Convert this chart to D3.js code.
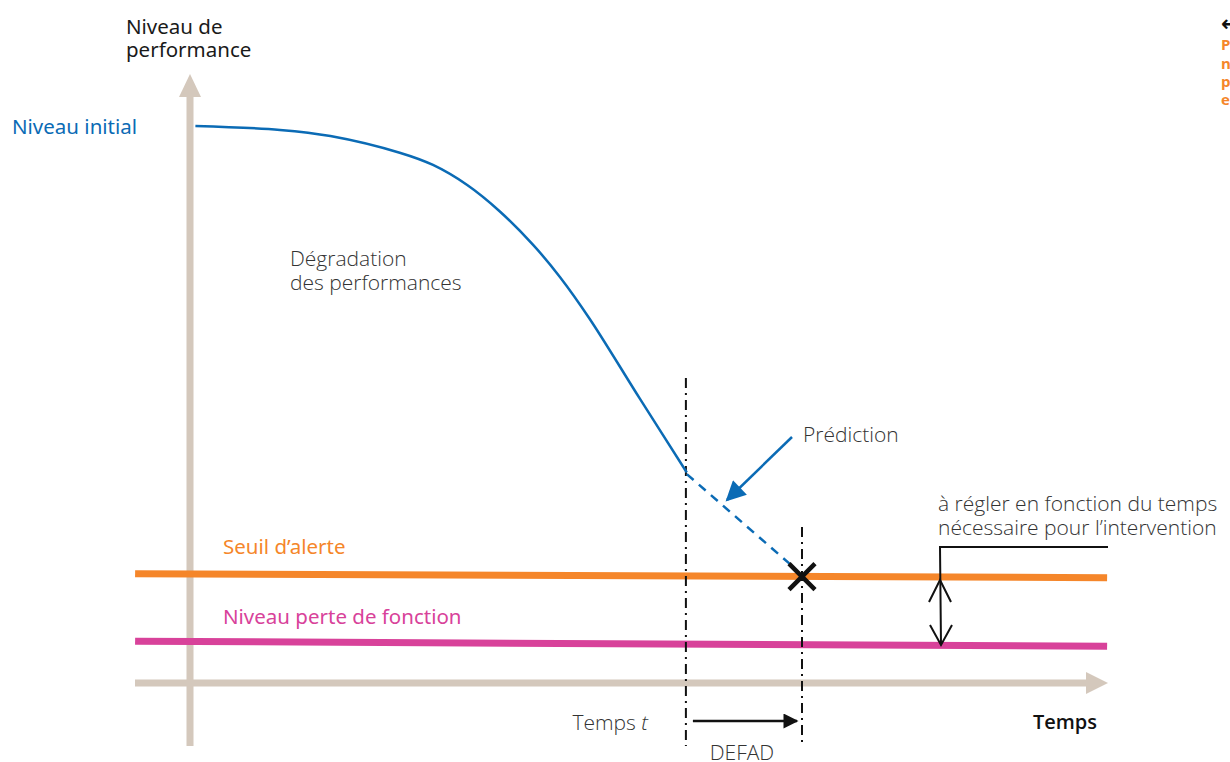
<!DOCTYPE html>
<html lang="fr">
<head>
<meta charset="UTF-8">
<title>Niveau de performance</title>
<script src="https://d3js.org/d3.v7.min.js"></script>
<style>
  body { margin: 0; background: #fff; }
  text { font-family: "Open Sans", "Noto Sans", sans-serif; }
</style>
</head>
<body>
<script>
// time 0..100, performance 0..100
const curveT = [0.6, 10, 15.6, 23.3, 27, 30.8, 34.4, 38.1, 41.1, 44.4, 50, 55.2];
const curveP = [100, 99.3, 98.2, 95.2, 93.0, 89.4, 84.7, 78.7, 72.9, 65.4, 51.0, 37.8];
const predT = [55.2, 67.2];
const predP = [37.5, 20.6];
const alertT = [-6.1, 101.9];
const alertP = [19.6, 18.9];
const lossP = [7.5, 6.6];
const tNow = 55.1;
const tDefad = 68;

const W = 1230, H = 762;
const svg = d3.select("body").append("svg")
    .attr("width", W)
    .attr("height", H);

const x = d3.scaleLinear().domain([0, 100]).range([190, 1090]);
const y = d3.scaleLinear().domain([0, 100]).range([683, 126]);

const axisColor = "#d4c8bc";
const blue = "#0b6bb5";
const orange = "#f5862a";
const pink = "#d8429a";
const grey = "#333";

// axes
svg.append("line")
    .attr("x1", x(0)).attr("x2", x(0))
    .attr("y1", 746).attr("y2", 95)
    .attr("stroke", axisColor).attr("stroke-width", 7);
svg.append("path")
    .attr("d", `M${x(0)},74 L${x(0) - 11},97 L${x(0) + 11},97 Z`)
    .attr("fill", axisColor);
svg.append("line")
    .attr("x1", 135).attr("x2", 1088)
    .attr("y1", y(0)).attr("y2", y(0))
    .attr("stroke", axisColor).attr("stroke-width", 7);
svg.append("path")
    .attr("d", `M1108,${y(0)} L1086,${y(0) - 11} L1086,${y(0) + 11} Z`)
    .attr("fill", axisColor);

// threshold lines
svg.append("line")
    .attr("x1", x(alertT[0])).attr("x2", x(alertT[1]))
    .attr("y1", y(alertP[0])).attr("y2", y(alertP[1]))
    .attr("stroke", orange).attr("stroke-width", 7);
svg.append("line")
    .attr("x1", x(alertT[0])).attr("x2", x(alertT[1]))
    .attr("y1", y(lossP[0])).attr("y2", y(lossP[1]))
    .attr("stroke", pink).attr("stroke-width", 7);

// vertical dash-dot lines
svg.append("line")
    .attr("x1", x(tNow)).attr("x2", x(tNow))
    .attr("y1", 378).attr("y2", 746)
    .attr("stroke", "#111").attr("stroke-width", 2)
    .attr("stroke-dasharray", "10,5,2,5");
svg.append("line")
    .attr("x1", x(tDefad)).attr("x2", x(tDefad))
    .attr("y1", 527).attr("y2", 746)
    .attr("stroke", "#111").attr("stroke-width", 2)
    .attr("stroke-dasharray", "10,5,2,5");

// performance curve
const line = d3.line()
    .x(d => x(d[0]))
    .y(d => y(d[1]))
    .curve(d3.curveCatmullRom.alpha(0.5));
svg.append("path")
    .datum(d3.zip(curveT, curveP))
    .attr("d", line)
    .attr("fill", "none")
    .attr("stroke", blue)
    .attr("stroke-width", 2.5);
svg.append("path")
    .datum(d3.zip(predT, predP))
    .attr("d", d3.line().x(d => x(d[0])).y(d => y(d[1])))
    .attr("fill", "none")
    .attr("stroke", blue)
    .attr("stroke-width", 2.5)
    .attr("stroke-dasharray", "9,7");

// cross at intersection
const cx = x(tDefad), cy = y(19.1);
svg.append("path")
    .attr("d", `M${cx - 13},${cy - 13} L${cx + 13},${cy + 13} M${cx - 13},${cy + 13} L${cx + 13},${cy - 13}`)
    .attr("stroke", "#111").attr("stroke-width", 4.5);

// markers
const defs = svg.append("defs");
defs.append("marker")
    .attr("id", "blueHead")
    .attr("viewBox", "0 0 10 10").attr("refX", 9).attr("refY", 5)
    .attr("markerWidth", 9).attr("markerHeight", 8)
    .attr("markerUnits", "strokeWidth")
    .attr("orient", "auto")
    .append("path").attr("d", "M0,0 L10,5 L0,10 Z").attr("fill", blue);
defs.append("marker")
    .attr("id", "blackHead")
    .attr("viewBox", "0 0 10 10").attr("refX", 9).attr("refY", 5)
    .attr("markerWidth", 8).attr("markerHeight", 6)
    .attr("markerUnits", "strokeWidth")
    .attr("orient", "auto")
    .append("path").attr("d", "M0,0 L10,5 L0,10 Z").attr("fill", "#111");

// prediction pointer
svg.append("line")
    .attr("x1", 792).attr("y1", 437)
    .attr("x2", 727).attr("y2", 500)
    .attr("stroke", blue).attr("stroke-width", 2.5)
    .attr("marker-end", "url(#blueHead)");

// DEFAD arrow
svg.append("line")
    .attr("x1", x(tNow) + 7).attr("x2", x(tDefad) - 5)
    .attr("y1", 721).attr("y2", 721)
    .attr("stroke", "#111").attr("stroke-width", 2.5)
    .attr("marker-end", "url(#blackHead)");

// bracket with double arrow
const bx = 940;
svg.append("path")
    .attr("d", `M1108,${547} L${bx},547 L${bx + 1},${y(lossP[0]) + 4}`)
    .attr("fill", "none").attr("stroke", "#111").attr("stroke-width", 2);
svg.append("path")
    .attr("d", `M${bx - 11},602 L${bx},580 L${bx + 11},602`)
    .attr("fill", "none").attr("stroke", "#111").attr("stroke-width", 2);
svg.append("path")
    .attr("d", `M${bx - 10},625 L${bx + 1},645 L${bx + 12},625`)
    .attr("fill", "none").attr("stroke", "#111").attr("stroke-width", 2);

// texts
function label(tx, ty, str, opts) {
    const t = svg.append("text")
        .attr("x", tx).attr("y", ty)
        .attr("font-size", opts.size || 21)
        .attr("font-weight", opts.weight || 400)
        .attr("fill", opts.color || grey)
        .text(str);
    if (opts.anchor) t.attr("text-anchor", opts.anchor);
    if (opts.family) t.style("font-family", opts.family);
    return t;
}

const med = "'Noto Sans', 'Open Sans', sans-serif";
label(126, 34, "Niveau de", { color: "#1a1a1a", weight: 400, family: med, size: 20.5 });
label(126, 57, "performance", { color: "#1a1a1a", weight: 400, family: med, size: 20.5 });
label(12, 134, "Niveau initial", { color: blue, weight: 400, family: med, size: 20.5 });
label(290, 266, "Dégradation", { weight: 300 });
label(290, 290, "des performances", { weight: 300 });
label(803, 442, "Prédiction", { weight: 300 });
label(938, 511, "à régler en fonction du temps", { weight: 300 });
label(938, 535, "nécessaire pour l\u2019intervention", { weight: 300 });
label(223, 554, "Seuil d\u2019alerte", { color: orange, weight: 400, family: med, size: 20.5 });
label(223, 624, "Niveau perte de fonction", { color: pink, weight: 400, family: med, size: 20.5 });

const tt = label(648, 730, "Temps ", { weight: 300, anchor: "end" });
tt.append("tspan").attr("font-style", "italic").text("t");
label(742, 760, "DEFAD", { weight: 300, anchor: "middle" });
label(1097, 729, "Temps", { color: "#111", weight: 600, anchor: "end", size: 20 });

// cut-off note at the right edge
label(1221, 31, "\u2190", { size: 22, color: "#111", weight: 700, family: "'DejaVu Sans', sans-serif" });
const note = ["P", "n", "p", "e"];
const noteY = [50, 69, 87, 105];
note.forEach((s, i) => {
    label(1221, noteY[i], s, { size: 15, color: orange, weight: 700 });
});
</script>
</body>
</html>
